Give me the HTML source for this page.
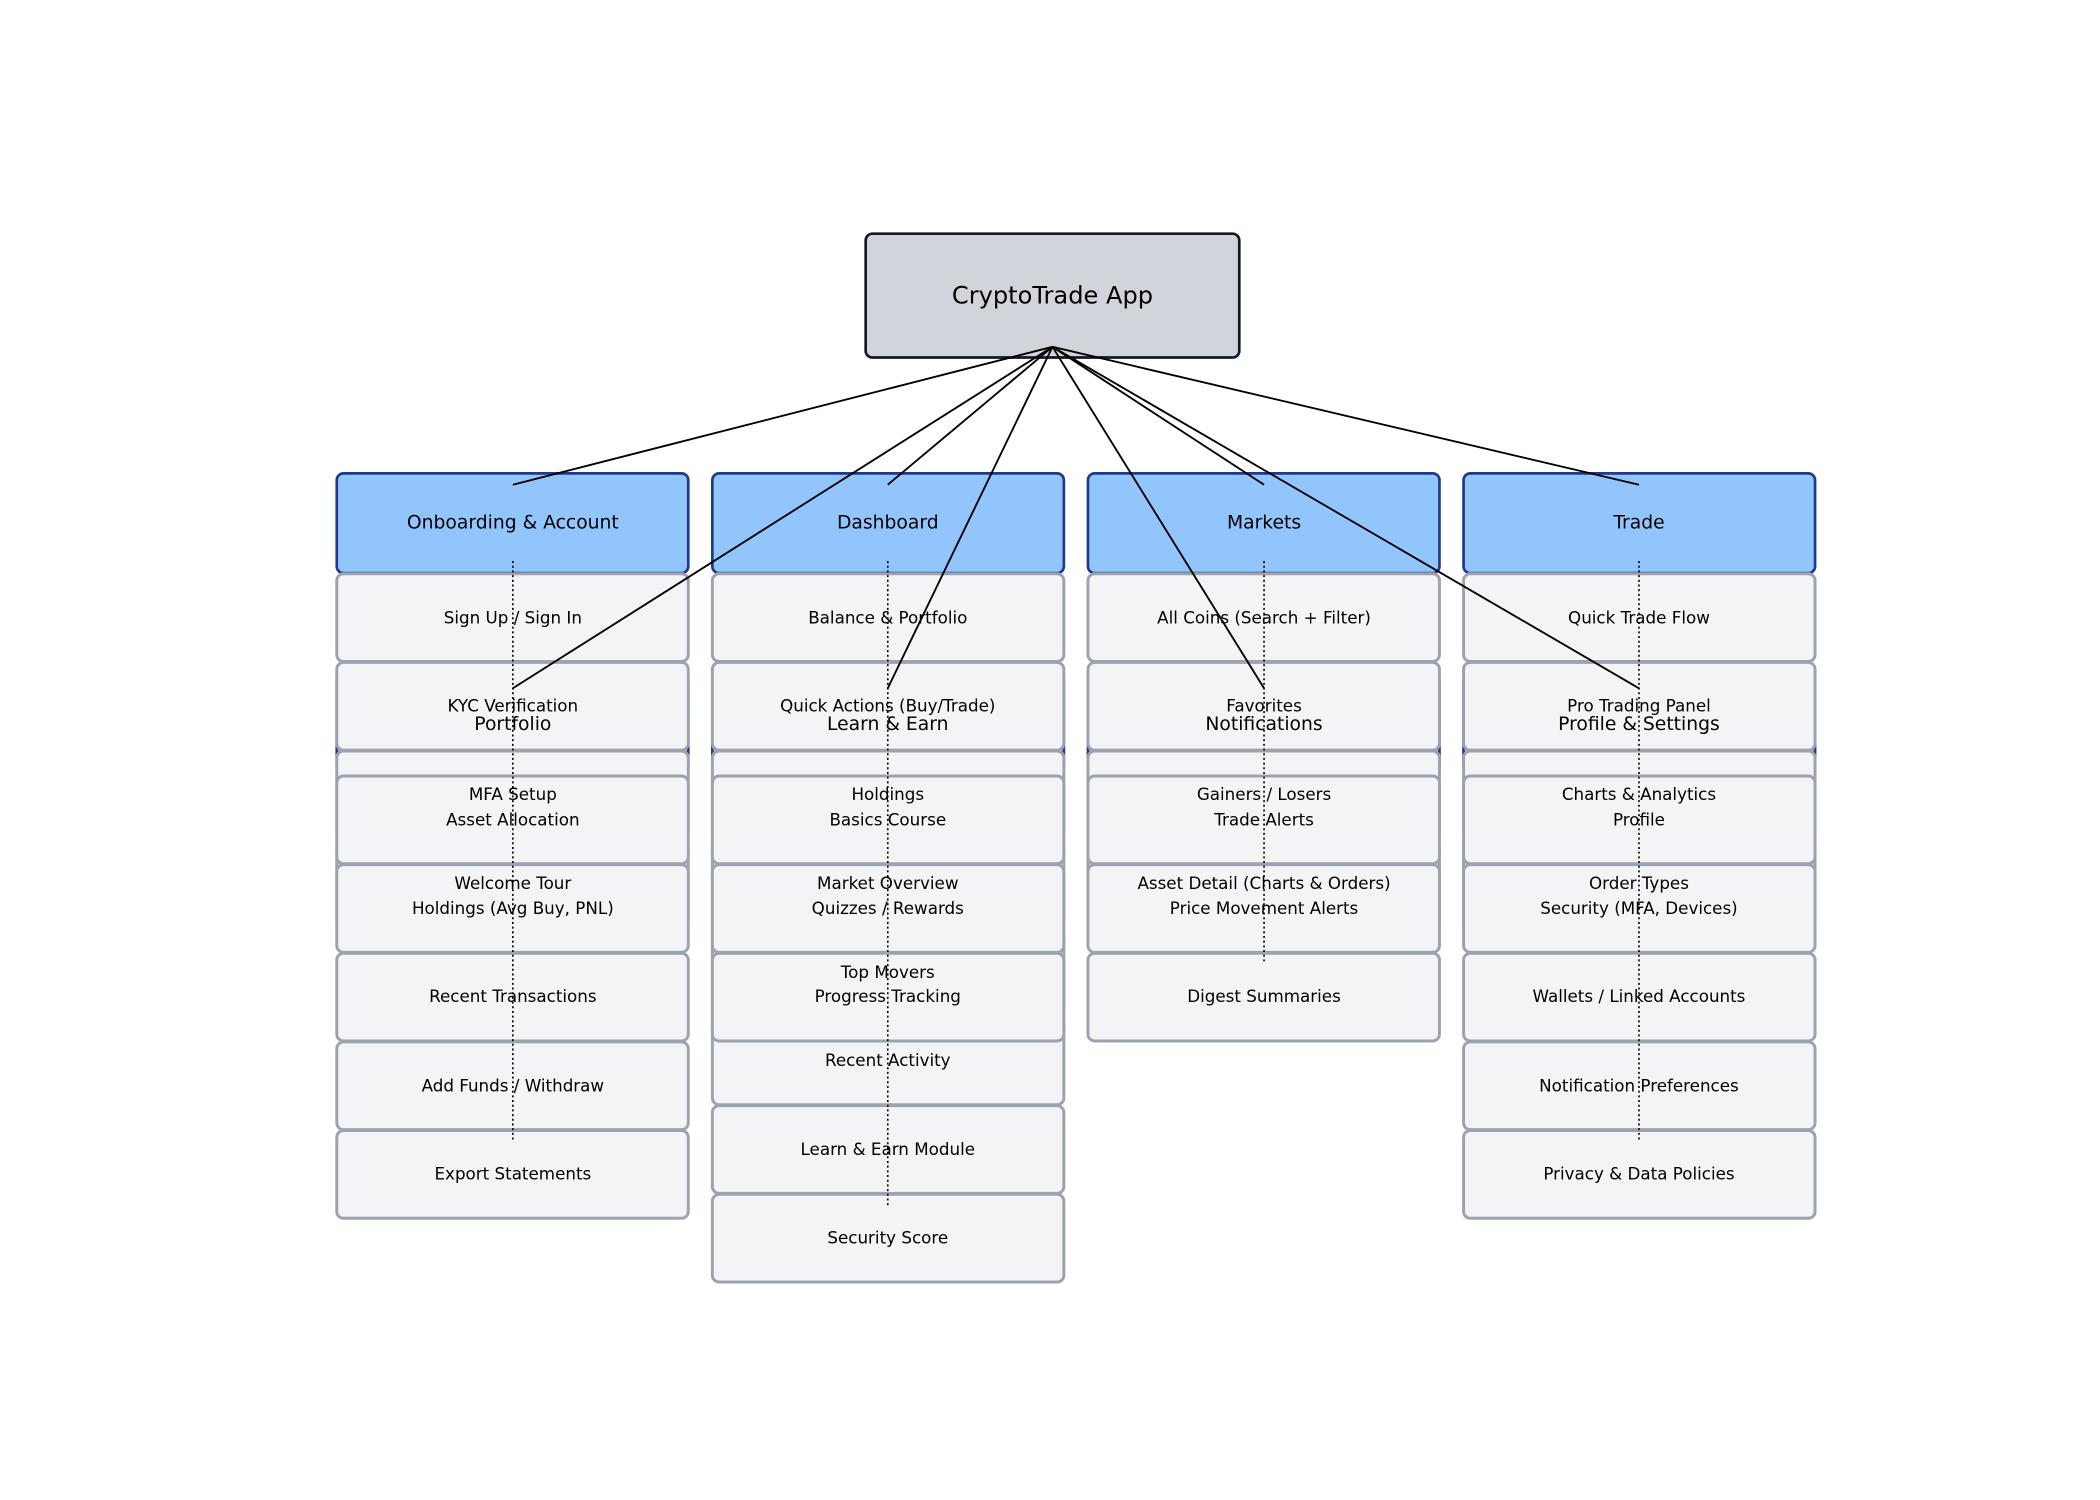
<!DOCTYPE html>
<html><head><meta charset="utf-8"><style>html,body{margin:0;padding:0;background:#fff}svg{display:block}</style></head>
<body>
<svg width="2100" height="1500" viewBox="0 0 1568.3 1120.2" preserveAspectRatio="none" xmlns="http://www.w3.org/2000/svg" font-family="DejaVu Sans, Liberation Sans, sans-serif">
<rect width="1568.3" height="1120.2" fill="#fff"/>
<g id="shapes" stroke-width="2">
<g fill="#93c5fd" stroke="#1e3a8a">
<rect x="251.5" y="504" width="262.5" height="74.5" rx="5"/>
<rect x="532" y="504" width="262.5" height="74.5" rx="5"/>
<rect x="812.5" y="504" width="262.5" height="74.5" rx="5"/>
<rect x="1093" y="504" width="262.5" height="74.5" rx="5"/>
</g>
<rect x="646.5" y="174.5" width="279" height="92.5" rx="5" fill="#d1d5db" stroke="#111827"/>
<g fill="#93c5fd" stroke="#1e3a8a">
<rect x="251.5" y="353.5" width="262.5" height="74.5" rx="5"/>
<rect x="532" y="353.5" width="262.5" height="74.5" rx="5"/>
<rect x="812.5" y="353.5" width="262.5" height="74.5" rx="5"/>
<rect x="1093" y="353.5" width="262.5" height="74.5" rx="5"/>
</g>
<g fill="#f3f4f6" stroke="#9ca3af" stroke-width="2.2">
<rect x="251.5" y="428.5" width="262.5" height="65.5" rx="5"/>
<rect x="251.5" y="494.7" width="262.5" height="65.5" rx="5"/>
<rect x="251.5" y="560.9" width="262.5" height="65.5" rx="5"/>
<rect x="251.5" y="627.1" width="262.5" height="65.5" rx="5"/>
<rect x="532" y="428.5" width="262.5" height="65.5" rx="5"/>
<rect x="532" y="494.7" width="262.5" height="65.5" rx="5"/>
<rect x="532" y="560.9" width="262.5" height="65.5" rx="5"/>
<rect x="532" y="627.1" width="262.5" height="65.5" rx="5"/>
<rect x="532" y="693.3" width="262.5" height="65.5" rx="5"/>
<rect x="532" y="759.5" width="262.5" height="65.5" rx="5"/>
<rect x="532" y="825.7" width="262.5" height="65.5" rx="5"/>
<rect x="532" y="891.9" width="262.5" height="65.5" rx="5"/>
<rect x="812.5" y="428.5" width="262.5" height="65.5" rx="5"/>
<rect x="812.5" y="494.7" width="262.5" height="65.5" rx="5"/>
<rect x="812.5" y="560.9" width="262.5" height="65.5" rx="5"/>
<rect x="812.5" y="627.1" width="262.5" height="65.5" rx="5"/>
<rect x="1093" y="428.5" width="262.5" height="65.5" rx="5"/>
<rect x="1093" y="494.7" width="262.5" height="65.5" rx="5"/>
<rect x="1093" y="560.9" width="262.5" height="65.5" rx="5"/>
<rect x="1093" y="627.1" width="262.5" height="65.5" rx="5"/>
<rect x="251.5" y="579.5" width="262.5" height="65.5" rx="5"/>
<rect x="251.5" y="645.7" width="262.5" height="65.5" rx="5"/>
<rect x="251.5" y="711.9" width="262.5" height="65.5" rx="5"/>
<rect x="251.5" y="778.1" width="262.5" height="65.5" rx="5"/>
<rect x="251.5" y="844.3" width="262.5" height="65.5" rx="5"/>
<rect x="532" y="579.5" width="262.5" height="65.5" rx="5"/>
<rect x="532" y="645.7" width="262.5" height="65.5" rx="5"/>
<rect x="532" y="711.9" width="262.5" height="65.5" rx="5"/>
<rect x="812.5" y="579.5" width="262.5" height="65.5" rx="5"/>
<rect x="812.5" y="645.7" width="262.5" height="65.5" rx="5"/>
<rect x="812.5" y="711.9" width="262.5" height="65.5" rx="5"/>
<rect x="1093" y="579.5" width="262.5" height="65.5" rx="5"/>
<rect x="1093" y="645.7" width="262.5" height="65.5" rx="5"/>
<rect x="1093" y="711.9" width="262.5" height="65.5" rx="5"/>
<rect x="1093" y="778.1" width="262.5" height="65.5" rx="5"/>
<rect x="1093" y="844.3" width="262.5" height="65.5" rx="5"/>
</g>
</g>
<g fill="#000" text-anchor="middle" dominant-baseline="central">
<text x="786" y="220.5" font-size="18">CryptoTrade App</text>
<g font-size="14">
<text x="383" y="390.5">Onboarding &amp; Account</text>
<text x="663" y="390.5">Dashboard</text>
<text x="944" y="390.5">Markets</text>
<text x="1224" y="390.5">Trade</text>
<text x="383" y="541">Portfolio</text>
<text x="663" y="541">Learn &amp; Earn</text>
<text x="944" y="541">Notifications</text>
<text x="1224" y="541">Profile &amp; Settings</text>
</g>
<g font-size="12.5">
<text x="383" y="461">Sign Up / Sign In</text>
<text x="383" y="527">KYC Verification</text>
<text x="383" y="593">MFA Setup</text>
<text x="383" y="659.5">Welcome Tour</text>
<text x="663" y="461">Balance &amp; Portfolio</text>
<text x="663" y="527">Quick Actions (Buy/Trade)</text>
<text x="663" y="593">Holdings</text>
<text x="663" y="659.5">Market Overview</text>
<text x="663" y="726">Top Movers</text>
<text x="663" y="791.5">Recent Activity</text>
<text x="663" y="858">Learn &amp; Earn Module</text>
<text x="663" y="924">Security Score</text>
<text x="944" y="461">All Coins (Search + Filter)</text>
<text x="944" y="527">Favorites</text>
<text x="944" y="593">Gainers / Losers</text>
<text x="944" y="659.5">Asset Detail (Charts &amp; Orders)</text>
<text x="1224" y="461">Quick Trade Flow</text>
<text x="1224" y="527">Pro Trading Panel</text>
<text x="1224" y="593">Charts &amp; Analytics</text>
<text x="1224" y="659.5">Order Types</text>
<text x="383" y="612">Asset Allocation</text>
<text x="383" y="678">Holdings (Avg Buy, PNL)</text>
<text x="383" y="744">Recent Transactions</text>
<text x="383" y="810.5">Add Funds / Withdraw</text>
<text x="383" y="876.5">Export Statements</text>
<text x="663" y="612">Basics Course</text>
<text x="663" y="678">Quizzes / Rewards</text>
<text x="663" y="744">Progress Tracking</text>
<text x="944" y="612">Trade Alerts</text>
<text x="944" y="678">Price Movement Alerts</text>
<text x="944" y="744">Digest Summaries</text>
<text x="1224" y="612">Profile</text>
<text x="1224" y="678">Security (MFA, Devices)</text>
<text x="1224" y="744">Wallets / Linked Accounts</text>
<text x="1224" y="810.5">Notification Preferences</text>
<text x="1224" y="876.5">Privacy &amp; Data Policies</text>
</g>
</g>
<g stroke="#000" stroke-width="1.4" fill="none">
<line x1="786" y1="259" x2="383" y2="362"/>
<line x1="786" y1="259" x2="663" y2="362"/>
<line x1="786" y1="259" x2="944" y2="362"/>
<line x1="786" y1="259" x2="1224" y2="362"/>
<line x1="786" y1="259" x2="383" y2="514"/>
<line x1="786" y1="259" x2="663" y2="514"/>
<line x1="786" y1="259" x2="944" y2="514"/>
<line x1="786" y1="259" x2="1224" y2="514"/>
</g>
<g stroke="#000" stroke-width="1.2" stroke-dasharray="1.5,2" fill="none">
<line x1="383" y1="419" x2="383" y2="851"/>
<line x1="663" y1="419" x2="663" y2="900"/>
<line x1="944" y1="419" x2="944" y2="719"/>
<line x1="1224" y1="419" x2="1224" y2="851"/>
</g>
</svg>
</body></html>
